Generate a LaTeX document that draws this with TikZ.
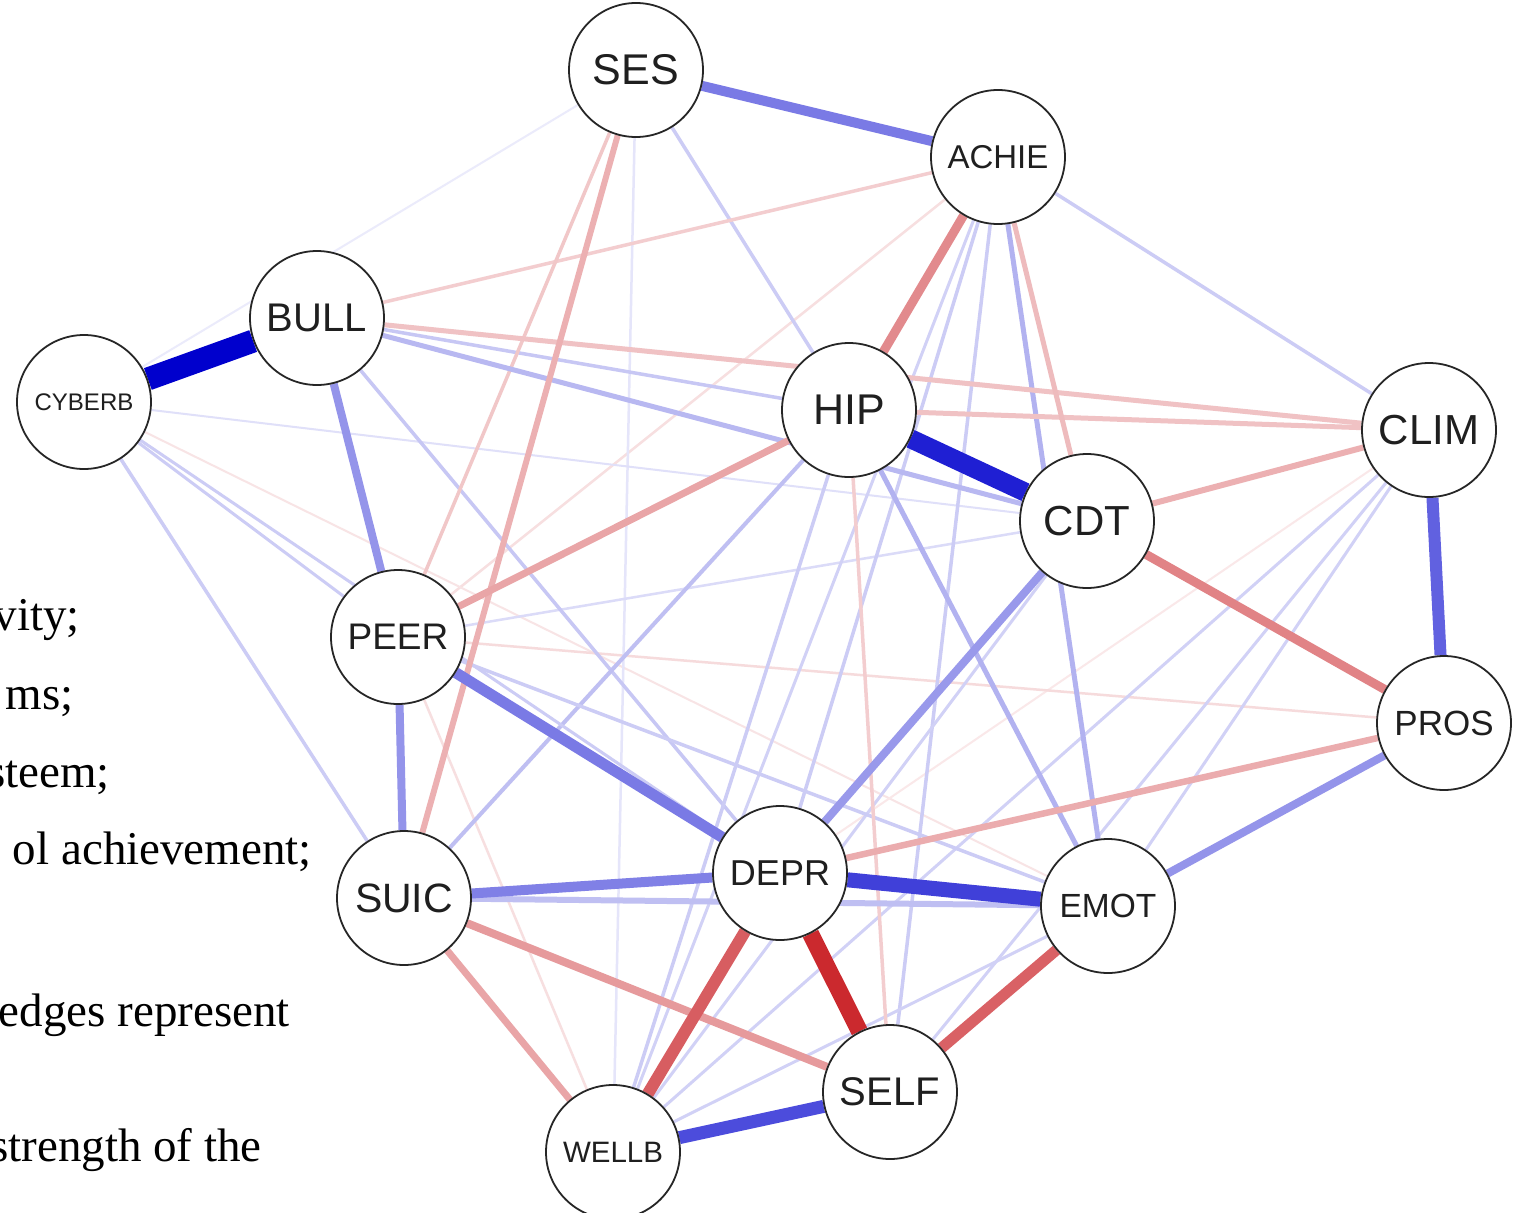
\documentclass[tikz,border=0pt]{standalone}
\usepackage{fontspec}
\setmainfont{Liberation Serif}
\newfontfamily\nodefont{Liberation Sans}
\pgfdeclarelayer{paper}
\pgfdeclarelayer{edgelayer}
\pgfsetlayers{paper,edgelayer,main}
\definecolor{posc}{RGB}{0,0,205}
\definecolor{negc}{RGB}{200,30,35}
% partial-correlation edges: blue = positive, red = negative; width and shade = strength
\newcommand{\posedge}[4]{\draw[line width=#3pt, draw=posc!#4!white] (#1) -- (#2);}
\newcommand{\negedge}[4]{\draw[line width=#3pt, draw=negc!#4!white] (#1) -- (#2);}
\begin{document}
\begin{tikzpicture}[x=1pt,y=-1pt,
  var/.style={circle, draw=black!85, line width=1.8pt, fill=white,
    minimum size=134pt, inner sep=0pt, text=black!88,
    font=\nodefont\fontsize{#1}{#1}\selectfont},
  note/.style={anchor=base east, inner sep=0pt, text=black,
    font=\fontsize{47}{50}\selectfont}]
\useasboundingbox (0,0) rectangle (1521,1213);
\begin{pgfonlayer}{paper}
  \fill[white] (0,0) rectangle (1521,1213);
\end{pgfonlayer}
\clip (0,0) rectangle (1521,1213);

% caption lines running in from the left
\node[note] (n1) at (80,630)   {vity;};
\node[note] (n2) at (74,709)   {ms;};
\node[note] (n3) at (110,787)  {steem;};
\node[note] (n4) at (312,864)  {ol achievement;};
\node[note] (n5) at (290,1026) {edges represent};
\node[note] (n6) at (262,1161) {strength of the};

% variables
\node[var=43]   (SES)    at (636,70)    {SES};
\node[var=33]   (ACHIE)  at (998,157)   {ACHIE};
\node[var=40]   (BULL)   at (317,318)   {BULL};
\node[var=24]   (CYBERB) at (84,402)    {CYBERB};
\node[var=43]   (HIP)    at (849,410)   {HIP};
\node[var=42]   (CLIM)   at (1429,430)  {CLIM};
\node[var=42]   (CDT)    at (1087,521)  {CDT};
\node[var=37]   (PEER)   at (398,637)   {PEER};
\node[var=35]   (PROS)   at (1444,723)  {PROS};
\node[var=36]   (DEPR)   at (780,873)   {DEPR};
\node[var=33.5] (EMOT)   at (1108,906)  {EMOT};
\node[var=41]   (SUIC)   at (404,898)   {SUIC};
\node[var=40]   (SELF)   at (890,1092)  {SELF};
\node[var=29.5] (WELLB)  at (613,1152)  {WELLB};

\begin{pgfonlayer}{edgelayer}
% faintest
\negedge{ACHIE}{PEER}{2.5}{14}
\negedge{CYBERB}{EMOT}{2}{12}
\negedge{CLIM}{DEPR}{2}{10}
\negedge{PROS}{PEER}{2.5}{16}
\negedge{PEER}{WELLB}{2.5}{14}
\posedge{SES}{CYBERB}{2}{8}
\posedge{SES}{WELLB}{2.5}{10}
\posedge{CYBERB}{CDT}{2}{12}
\posedge{CDT}{PEER}{2.5}{14}
% light
\posedge{ACHIE}{CLIM}{3.5}{20}
\posedge{SES}{HIP}{3.5}{20}
\posedge{BULL}{HIP}{3.5}{22}
\posedge{BULL}{DEPR}{3.5}{22}
\posedge{HIP}{SUIC}{4}{25}
\posedge{CYBERB}{PEER}{3}{20}
\posedge{CYBERB}{DEPR}{3}{20}
\posedge{CYBERB}{SUIC}{3.5}{20}
\posedge{HIP}{WELLB}{3.5}{20}
\posedge{ACHIE}{DEPR}{3.5}{20}
\posedge{ACHIE}{SELF}{3.5}{20}
\posedge{ACHIE}{WELLB}{3}{18}
\posedge{CLIM}{WELLB}{3}{18}
\posedge{CLIM}{SELF}{3}{18}
\posedge{CLIM}{EMOT}{3}{18}
\posedge{WELLB}{EMOT}{3}{18}
\posedge{WELLB}{CDT}{3}{18}
\posedge{PEER}{EMOT}{3.5}{20}
\negedge{ACHIE}{BULL}{3.5}{22}
\negedge{SES}{PEER}{3.5}{25}
\negedge{HIP}{SELF}{3.5}{22}
% medium
\posedge{BULL}{CDT}{5}{28}
\posedge{ACHIE}{EMOT}{5}{30}
\posedge{HIP}{EMOT}{5}{30}
\posedge{SUIC}{EMOT}{6}{25}
\negedge{HIP}{CLIM}{5}{27}
\negedge{BULL}{CLIM}{5}{27}
\negedge{ACHIE}{CDT}{5}{30}
\negedge{CDT}{CLIM}{6}{35}
\negedge{SES}{SUIC}{6}{35}
\negedge{PROS}{DEPR}{6.5}{37}
\negedge{HIP}{PEER}{7}{40}
\negedge{SUIC}{WELLB}{7}{40}
% strong
\posedge{BULL}{PEER}{8}{42}
\posedge{PEER}{SUIC}{8}{42}
\posedge{CDT}{DEPR}{8}{40}
\posedge{PROS}{EMOT}{8}{42}
\negedge{SUIC}{SELF}{8}{45}
\negedge{ACHIE}{HIP}{9}{52}
\negedge{CDT}{PROS}{9}{55}
\posedge{SES}{ACHIE}{10}{52}
\posedge{SUIC}{DEPR}{10}{50}
\posedge{PEER}{DEPR}{11}{52}
\negedge{EMOT}{SELF}{11}{70}
\negedge{DEPR}{WELLB}{12}{72}
\posedge{CLIM}{PROS}{12}{62}
\posedge{SELF}{WELLB}{13}{70}
\posedge{DEPR}{EMOT}{15}{75}
\negedge{DEPR}{SELF}{17}{95}
\posedge{HIP}{CDT}{19}{88}
\posedge{CYBERB}{BULL}{23}{100}
\end{pgfonlayer}
\end{tikzpicture}
\end{document}
